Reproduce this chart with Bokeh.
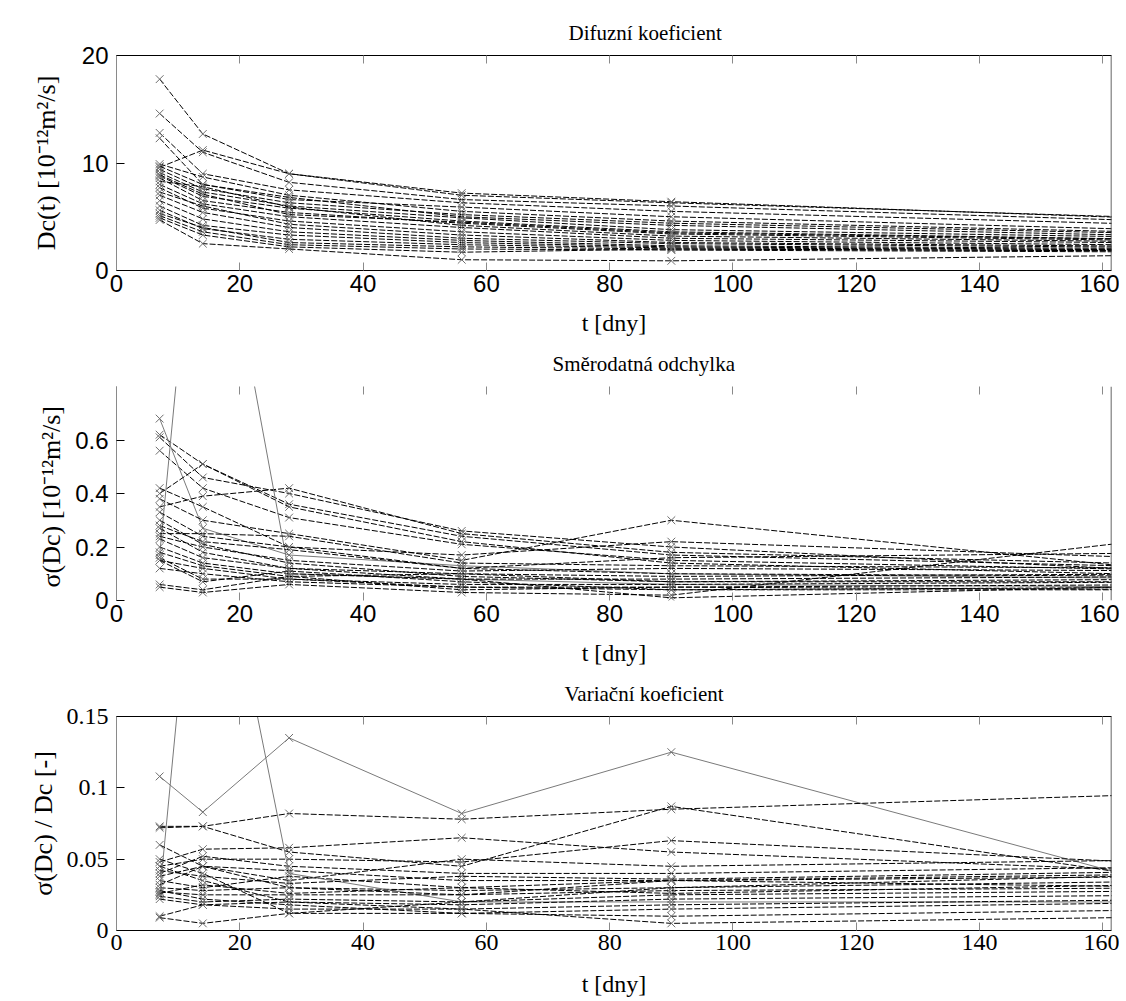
from bokeh.plotting import figure
from bokeh.layouts import column
from bokeh.models import Range1d, FixedTicker, LinearAxis, Span, CustomJSTickFormatter
from bokeh.embed import file_html
from bokeh.resources import INLINE

# measurement times [days]; the last one lies beyond the visible range
T = [7, 14, 28, 56, 90, 180]
N_MEAS = 5
X_TICKS = [0, 20, 40, 60, 80, 100, 120, 140, 160]
X_MAX = 161.4

TITLES = ["Difuzní koeficient", "Směrodatná odchylka", "Variační koeficient"]
YLABELS = ["Dc(t) [10⁻¹²m²/s]", "σ(Dc)  [10⁻¹²m²/s]", "σ(Dc) / Dc [-]"]
XLABEL = "t [dny]"

Y_TICKS_DC = [0, 10, 20]
Y_TICKS_SIGMA = [0, 0.2, 0.4, 0.6]
Y_TICKS_CV = [0, 0.05, 0.1, 0.15]

# diffusion coefficient, one row per specimen (values at T)
DC = [
    [17.8, 12.7, 9.0, 7.2, 6.4, 4.6],
    [14.6, 11.0, 8.2, 6.6, 6.0, 4.4],
    [12.8, 9.0, 7.5, 6.3, 5.5, 4.1],
    [12.3, 8.0, 6.6, 5.9, 5.0, 3.6],
    [9.6, 11.2, 9.0, 7.0, 6.3, 4.7],
    [9.9, 8.7, 7.0, 5.5, 4.6, 3.4],
    [9.4, 7.6, 6.3, 5.2, 4.4, 3.3],
    [9.1, 7.3, 6.0, 4.9, 3.8, 3.0],
    [8.8, 6.9, 5.8, 4.6, 3.6, 2.8],
    [8.6, 6.5, 5.4, 4.4, 3.4, 2.7],
    [8.3, 7.8, 5.9, 4.2, 3.2, 2.6],
    [8.0, 6.2, 5.0, 4.0, 3.0, 2.5],
    [7.7, 5.8, 4.6, 3.6, 2.8, 2.3],
    [7.3, 6.0, 4.3, 3.3, 2.6, 2.2],
    [7.0, 5.4, 4.0, 3.0, 2.5, 2.1],
    [6.5, 4.8, 3.6, 2.8, 2.3, 2.0],
    [6.0, 4.2, 3.3, 2.6, 2.2, 1.9],
    [5.6, 3.9, 2.9, 2.4, 2.1, 1.9],
    [5.3, 4.0, 2.6, 2.2, 2.0, 1.8],
    [5.1, 3.6, 2.4, 2.0, 1.9, 1.7],
    [4.9, 3.3, 2.2, 1.7, 2.0, 1.8],
    [4.7, 2.5, 2.0, 1.0, 0.9, 1.5],
    [8.9, 7.1, 5.2, 4.5, 3.5, 2.8],
    [9.7, 8.0, 6.8, 5.0, 4.2, 3.1],
]
DC_GRAY = []

# standard deviation
SIGMA = [
    [0.62, 0.51, 0.36, 0.24, 0.17, 0.12],
    [0.61, 0.46, 0.40, 0.26, 0.20, 0.10],
    [0.56, 0.42, 0.31, 0.21, 0.15, 0.11],
    [0.68, 0.27, 0.17, 0.13, 0.10, 0.08],
    [0.40, 0.51, 0.35, 0.22, 0.14, 0.09],
    [0.35, 0.39, 0.42, 0.25, 0.18, 0.13],
    [0.17, 1.85, 0.10, 0.08, 0.06, 0.05],
    [0.38, 0.30, 0.25, 0.15, 0.30, 0.09],
    [0.33, 0.24, 0.20, 0.17, 0.22, 0.15],
    [0.28, 0.22, 0.19, 0.12, 0.16, 0.18],
    [0.25, 0.25, 0.24, 0.14, 0.13, 0.12],
    [0.24, 0.20, 0.15, 0.11, 0.12, 0.11],
    [0.23, 0.16, 0.12, 0.10, 0.09, 0.10],
    [0.20, 0.14, 0.10, 0.08, 0.08, 0.09],
    [0.18, 0.13, 0.09, 0.10, 0.07, 0.08],
    [0.16, 0.08, 0.08, 0.06, 0.06, 0.07],
    [0.15, 0.12, 0.08, 0.05, 0.05, 0.06],
    [0.15, 0.07, 0.11, 0.07, 0.04, 0.05],
    [0.06, 0.04, 0.09, 0.04, 0.05, 0.04],
    [0.05, 0.03, 0.06, 0.03, 0.02, 0.26],
    [0.30, 0.21, 0.14, 0.09, 0.07, 0.07],
    [0.42, 0.35, 0.20, 0.12, 0.10, 0.09],
    [0.12, 0.10, 0.07, 0.05, 0.04, 0.04],
    [0.27, 0.18, 0.12, 0.08, 0.01, 0.06],
]
SIGMA_GRAY = [3, 6]

# coefficient of variation
CV = [
    [0.108, 0.083, 0.135, 0.082, 0.125, 0.020],
    [0.073, 0.073, 0.082, 0.078, 0.085, 0.097],
    [0.072, 0.073, 0.055, 0.045, 0.087, 0.030],
    [0.048, 0.057, 0.058, 0.065, 0.055, 0.040],
    [0.045, 0.050, 0.050, 0.048, 0.063, 0.045],
    [0.040, 0.052, 0.045, 0.040, 0.040, 0.045],
    [0.038, 0.045, 0.042, 0.035, 0.035, 0.040],
    [0.035, 0.030, 0.038, 0.030, 0.035, 0.038],
    [0.030, 0.028, 0.030, 0.028, 0.030, 0.035],
    [0.025, 0.340, 0.040, 0.020, 0.020, 0.020],
    [0.027, 0.025, 0.025, 0.025, 0.028, 0.030],
    [0.024, 0.020, 0.022, 0.020, 0.025, 0.028],
    [0.022, 0.018, 0.020, 0.018, 0.022, 0.025],
    [0.010, 0.018, 0.015, 0.015, 0.018, 0.022],
    [0.009, 0.005, 0.012, 0.012, 0.010, 0.015],
    [0.045, 0.035, 0.020, 0.015, 0.005, 0.010],
    [0.050, 0.040, 0.012, 0.020, 0.030, 0.040],
    [0.032, 0.045, 0.035, 0.050, 0.045, 0.050],
    [0.060, 0.045, 0.030, 0.025, 0.035, 0.030],
    [0.028, 0.022, 0.018, 0.012, 0.015, 0.020],
    [0.042, 0.038, 0.033, 0.038, 0.036, 0.042],
    [0.026, 0.032, 0.026, 0.030, 0.026, 0.033],
]
CV_GRAY = [0, 9]

SERIF = "Liberation Serif"
SANS = "Liberation Sans"
FMT = CustomJSTickFormatter(code="return String(tick);")


def make_panel(title, title_offset, ylabel, rows, gray, y_end, y_ticks, height,
               b_top, b_bottom, tick_font, y_label_standoff, x_label_standoff,
               frame_lines):
    p = figure(width=1119, height=height, x_range=Range1d(0, X_MAX),
               y_range=Range1d(0, y_end), output_backend="svg",
               toolbar_location=None, min_border_left=116, min_border_right=8,
               min_border_top=b_top, min_border_bottom=b_bottom)
    p.grid.visible = False
    p.outline_line_color = None
    p.background_fill_color = "white"

    p.title.text = title
    p.title.align = "left"
    p.title.offset = title_offset
    p.title.text_font = SERIF
    p.title.text_font_size = "21px"
    p.title.text_font_style = "normal"
    p.title.text_color = "black"
    p.title.standoff = 22

    # bottom axis
    xa = p.xaxis[0]
    xa.ticker = FixedTicker(ticks=X_TICKS)
    xa.formatter = FMT
    xa.major_tick_in = 8
    xa.major_tick_out = 0
    xa.minor_tick_line_color = None
    xa.major_tick_line_color = "#8a8a8a"
    xa.axis_line_color = "black" if frame_lines else None
    xa.major_label_text_font = tick_font
    xa.major_label_text_font_size = "24px"
    xa.major_label_text_color = "black"
    xa.major_label_standoff = 4
    xa.axis_label = XLABEL
    xa.axis_label_text_font = SERIF
    xa.axis_label_text_font_size = "24px"
    xa.axis_label_text_font_style = "normal"
    xa.axis_label_text_color = "black"
    xa.axis_label_standoff = x_label_standoff

    # left axis
    ya = p.yaxis[0]
    ya.ticker = FixedTicker(ticks=y_ticks)
    ya.formatter = FMT
    ya.major_tick_in = 8
    ya.major_tick_out = 0
    ya.minor_tick_line_color = None
    ya.major_tick_line_color = "black"
    ya.axis_line_color = "#8a8a8a"
    ya.major_label_text_font = tick_font
    ya.major_label_text_font_size = "24px"
    ya.major_label_text_color = "black"
    ya.major_label_standoff = 8
    ya.axis_label = ylabel
    ya.axis_label_text_font = SERIF
    ya.axis_label_text_font_size = "26px"
    ya.axis_label_text_font_style = "normal"
    ya.axis_label_text_color = "black"
    ya.axis_label_standoff = y_label_standoff

    # top axis: ticks only (box)
    top = LinearAxis(ticker=FixedTicker(ticks=X_TICKS),
                     formatter=CustomJSTickFormatter(code="return '';"))
    top.major_tick_in = 8
    top.major_tick_out = 0
    top.minor_tick_line_color = None
    top.major_tick_line_color = "#8a8a8a"
    top.axis_line_color = "black" if frame_lines else None
    top.major_label_text_font_size = "1px"
    top.major_label_standoff = 0
    p.add_layout(top, "above")

    # right edge of the box
    p.add_layout(Span(location=X_MAX, dimension="height", line_color="#333333",
                      line_width=1.5))

    for i, row in enumerate(rows):
        if i in gray:
            p.line(T, row, line_color="#7a7a7a", line_width=1)
        else:
            p.line(T, row, line_color="black", line_width=1, line_dash="6 2")
        p.scatter(T[:N_MEAS], row[:N_MEAS], marker="x", size=11,
                  line_color="#6e6e6e", line_width=1)
    return p


p1 = make_panel(TITLES[0], 452, YLABELS[0], DC, DC_GRAY, 20, Y_TICKS_DC,
                338, 55, 68, SANS, 18, 15, True)
p2 = make_panel(TITLES[1], 436, YLABELS[1], SIGMA, SIGMA_GRAY, 0.8, Y_TICKS_SIGMA,
                330, 46, 68, SANS, 6, 15, False)
p3 = make_panel(TITLES[2], 448, YLABELS[2], CV, CV_GRAY, 0.15, Y_TICKS_CV,
                332, 47, 70, SERIF, 6, 18, True)

layout = column(p1, p2, p3, spacing=0)
open("out.html", "w").write(file_html(layout, INLINE))
